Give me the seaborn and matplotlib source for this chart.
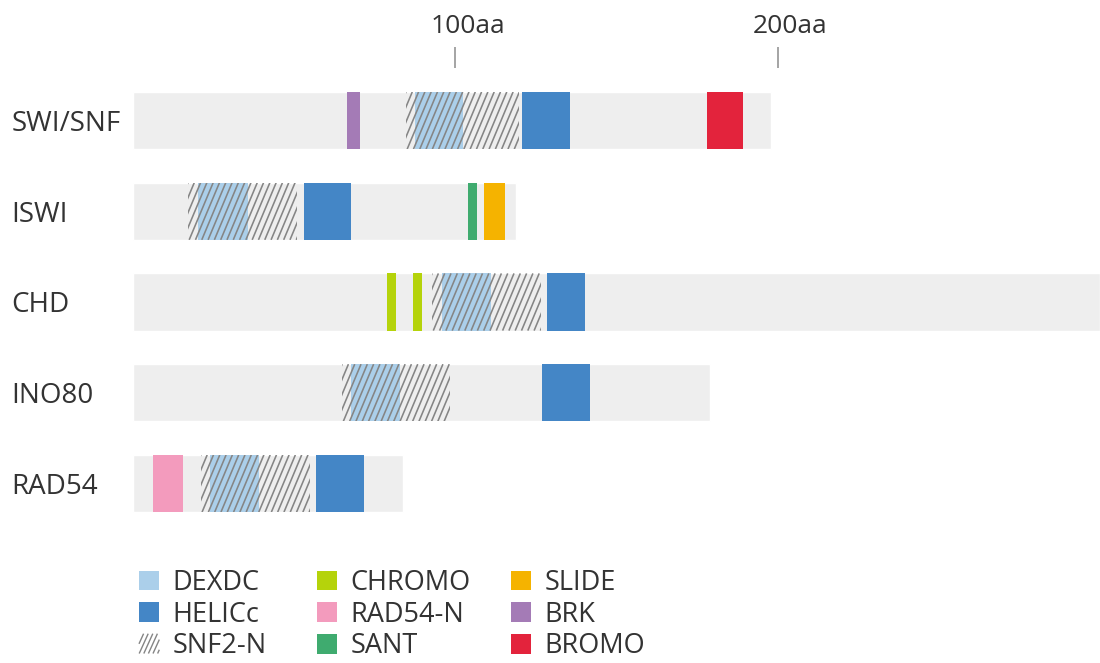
import matplotlib
matplotlib.use("Agg")
import matplotlib.pyplot as plt
import matplotlib.transforms as mtransforms
from matplotlib.patches import Patch
from matplotlib.lines import Line2D
from matplotlib.legend_handler import HandlerBase
import seaborn as sns
import pandas as pd

# ---------------- data ----------------
proteins = ["SWI/SNF", "ISWI", "CHD", "INO80", "RAD54"]
lengths = [198, 119, 300, 179, 84]

dexdc_protein = ["SWI/SNF", "ISWI", "CHD", "INO80", "RAD54"]
dexdc_start = [87.6, 20.3, 96.0, 67.8, 24.0]
dexdc_end = [102.5, 35.8, 111.2, 83.0, 39.2]

helicc_protein = ["SWI/SNF", "ISWI", "CHD", "INO80", "RAD54"]
helicc_start = [120.8, 53.2, 128.5, 127.0, 56.9]
helicc_end = [135.7, 67.8, 140.3, 141.9, 71.8]

snf2_protein = ["SWI/SNF", "ISWI", "CHD", "INO80", "RAD54"]
snf2_start = [84.8, 17.2, 92.9, 65.0, 21.2]
snf2_end = [119.7, 51.0, 126.7, 98.4, 55.0]

chromo_protein = ["CHD", "CHD"]
chromo_start = [78.9, 87.0]
chromo_end = [81.7, 89.8]

rad54n_protein = ["RAD54"]
rad54n_start = [6.4]
rad54n_end = [15.7]

sant_protein = ["ISWI"]
sant_start = [104.0]
sant_end = [106.8]

slide_protein = ["ISWI"]
slide_start = [109.0]
slide_end = [115.5]

brk_protein = ["SWI/SNF"]
brk_start = [66.5]
brk_end = [70.5]

bromo_protein = ["SWI/SNF"]
bromo_start = [178.1]
bromo_end = [189.3]

tick_values = [100, 200]
tick_labels = ["100aa", "200aa"]

legend_columns = [["DEXDC", "HELICc", "SNF2-N"],
                  ["CHROMO", "RAD54-N", "SANT"],
                  ["SLIDE", "BRK", "BROMO"]]

# ---------------- style ----------------
colors = {
    "DEXDC": "#abcfea",
    "HELICc": "#4486c6",
    "CHROMO": "#b5d30b",
    "RAD54-N": "#f39bbd",
    "SANT": "#3fab6f",
    "SLIDE": "#f5b300",
    "BRK": "#a47bb6",
    "BROMO": "#e3233c",
}
BG = "#eeeeee"
HATCH_COL = "#858585"
HATCH_LW = 1.15
HATCH_STEP_PX = 6.3     # horizontal spacing of hatch lines (px)
HATCH_RUN_PX = 24.0     # horizontal run of one hatch line over full bar height (px)
TEXT_COL = "#333333"
BAR_H = 0.63

sns.set_theme(style="white")
plt.rcParams["font.family"] = ["Open Sans", "DejaVu Sans"]

W, H = 1100, 663
fig = plt.figure(figsize=(W / 100, H / 100), dpi=100)
ax_left, ax_top, ax_bottom = 132.5, 68, 540
ax = fig.add_axes([ax_left / W, 1 - ax_bottom / H, 1 - ax_left / W,
                   (ax_bottom - ax_top) / H])

bg_df = pd.DataFrame({"protein": proteins, "length": lengths})
sns.barplot(data=bg_df, x="length", y="protein", orient="h", color=BG,
            saturation=1, width=BAR_H, ax=ax, order=proteins)

XMAX = 300
YTOP = -52.5 / 90.75
YBOT = 4 + 56.5 / 90.75
ax.set_xlim(0, XMAX)
ax.set_ylim(YBOT, YTOP)

px_per_x = (W - ax_left) / XMAX

pos = {p: i for i, p in enumerate(proteins)}


def draw(plist, starts, ends, **kw):
    out = []
    for p, s, e in zip(plist, starts, ends):
        bars = ax.barh(pos[p], e - s, left=s, height=BAR_H, **kw)
        out.append((pos[p], s, e, bars.patches[0]))
    return out


draw(dexdc_protein, dexdc_start, dexdc_end, color=colors["DEXDC"], linewidth=0)
draw(helicc_protein, helicc_start, helicc_end, color=colors["HELICc"], linewidth=0)
draw(chromo_protein, chromo_start, chromo_end, color=colors["CHROMO"], linewidth=0)
draw(rad54n_protein, rad54n_start, rad54n_end, color=colors["RAD54-N"], linewidth=0)
draw(sant_protein, sant_start, sant_end, color=colors["SANT"], linewidth=0)
draw(slide_protein, slide_start, slide_end, color=colors["SLIDE"], linewidth=0)
draw(brk_protein, brk_start, brk_end, color=colors["BRK"], linewidth=0)
draw(bromo_protein, bromo_start, bromo_end, color=colors["BROMO"], linewidth=0)
snf2_bars = draw(snf2_protein, snf2_start, snf2_end, facecolor="none", linewidth=0)

# steep hatch for SNF2-N regions, clipped to each region
step = HATCH_STEP_PX / px_per_x
run = HATCH_RUN_PX / px_per_x
for yc, s, e, patch in snf2_bars:
    y_bottom = yc + BAR_H / 2
    y_top = yc - BAR_H / 2
    x = s - run
    while x < e:
        ln, = ax.plot([x, x + run], [y_bottom, y_top], color=HATCH_COL,
                      lw=HATCH_LW, solid_capstyle="butt")
        ln.set_clip_path(patch)
        x += step

ax.set_xlabel("")
ax.set_ylabel("")
for sp in ax.spines.values():
    sp.set_visible(False)

# top ticks
ax.xaxis.tick_top()
ax.set_xticks(tick_values)
ax.set_xticklabels(tick_labels)
ax.tick_params(axis="x", which="major", top=True, bottom=False, length=15,
               width=1.1, color="#8c8c8c", pad=6, labelsize=19,
               labelcolor=TEXT_COL, direction="out")
off = mtransforms.ScaledTranslation(13 / 100, 0, fig.dpi_scale_trans)
for lab in ax.get_xticklabels():
    lab.set_transform(lab.get_transform() + off)

# left labels
ax.tick_params(axis="y", length=0, pad=87, labelsize=20, labelcolor=TEXT_COL)
for lab in ax.get_yticklabels():
    lab.set_horizontalalignment("left")


# legend
class SteepHatchHandler(HandlerBase):
    def create_artists(self, legend, orig_handle, xdescent, ydescent,
                       width, height, fontsize, trans):
        arts = []
        x0s = -xdescent
        y0 = -ydescent
        lstep = 4.6 * 72 / 100
        lrun = 9.0 * 72 / 100
        x = -lrun
        while x < width:
            lo = max(0.0, (-x) * height / lrun)
            hi = min(height, (width - x) * height / lrun)
            if hi > lo:
                xa = x + lo * lrun / height
                xb = x + hi * lrun / height
                arts.append(Line2D([x0s + xa, x0s + xb], [y0 + lo, y0 + hi],
                                   color=HATCH_COL, lw=1.0,
                                   solid_capstyle="butt", transform=trans))
            x += lstep
        return arts


LEG_FS = 19.5
col_x = [139, 317, 511]
for cx, col in zip(col_x, legend_columns):
    handles = []
    handler_map = {}
    for name in col:
        if name == "SNF2-N":
            h = Patch(facecolor="none", linewidth=0, label=name)
            handler_map[h] = SteepHatchHandler()
        else:
            h = Patch(facecolor=colors[name], linewidth=0, label=name)
        handles.append(h)
    fig.legend(handles=handles, loc="upper left", handler_map=handler_map,
               bbox_to_anchor=(cx / W, 1 - 569 / H), frameon=False,
               borderpad=0, borderaxespad=0, handlelength=0.75,
               handleheight=0.75, handletextpad=0.5, labelspacing=0.13,
               prop={"size": LEG_FS}, labelcolor=TEXT_COL)

fig.savefig("out.png", dpi=100)
